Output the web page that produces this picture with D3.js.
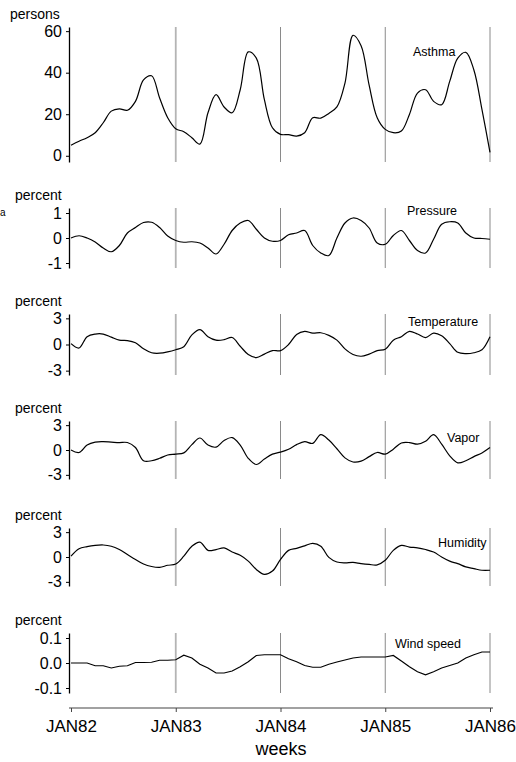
<!DOCTYPE html>
<html>
<head>
<meta charset="utf-8">
<script src="https://cdn.jsdelivr.net/npm/d3@7"></script>
<style>
  body { margin: 0; background: #fff; }
  svg text { font-family: "Liberation Sans", Arial, sans-serif; fill: #000; }
</style>
</head>
<body>
<div id="chart"></div>
<script>
// Week index (every 4 weeks, Jan 1982 .. Jan 1986)
const weeks = [0, 4, 8, 12, 16, 20, 24, 28, 32, 36, 40, 44, 48, 52, 56, 60, 64, 68, 72, 76, 80, 84, 88, 92, 96, 100,
  104, 108, 112, 116, 120, 124, 128, 132, 136, 140, 144, 148, 152, 156, 160, 164, 168, 172, 176, 180, 184, 188, 192, 196, 200, 204, 208];

const yearTicks = [0, 52, 104, 156, 208];
const yearLabels = ["JAN82", "JAN83", "JAN84", "JAN85", "JAN86"];

// Series values
const asthma = [5.1, 7.0, 8.7, 11.1, 15.9, 21.5, 22.6, 21.9, 26.2, 36.5, 38.5, 27.8, 18.3, 13.0, 11.6, 8.7, 5.6, 20.7, 29.4, 23.5,
  20.7, 31.8, 50.0, 47.0, 27.0, 13.5, 10.3, 10.2, 9.5, 11.1, 18.3, 18.1, 20.4, 23.5, 35.0, 58.0, 53.0, 34.0, 18.3, 12.7,
  11.1, 11.9, 19.9, 30.2, 31.8, 26.2, 24.6, 35.8, 47.0, 49.8, 41.3, 22.3, 1.6];

const pressure = [0.0, 0.09, 0.0, -0.16, -0.4, -0.55, -0.3, 0.2, 0.42, 0.62, 0.63, 0.42, 0.08, -0.1, -0.17, -0.15, -0.2, -0.4,
  -0.64, -0.25, 0.3, 0.6, 0.7, 0.35, 0.0, -0.13, -0.1, 0.13, 0.2, 0.3, -0.3, -0.6, -0.7, 0.0, 0.6, 0.8, 0.7, 0.4, -0.2,
  -0.25, 0.1, 0.3, -0.1, -0.5, -0.6, -0.05, 0.55, 0.65, 0.6, 0.2, 0.0, -0.02, -0.05];

const temperature = [0.1, -0.4, 0.9, 1.2, 1.2, 0.85, 0.5, 0.45, 0.2, -0.5, -0.95, -1.0, -0.85, -0.6, -0.25, 1.1, 1.7, 0.9,
  0.5, 0.55, 0.8, -0.2, -1.15, -1.5, -1.1, -0.7, -0.7, 0.0, 1.15, 1.5, 1.3, 1.35, 1.05, 0.5, -0.5, -1.15, -1.35, -1.1,
  -0.7, -0.55, 0.5, 0.9, 1.5, 1.2, 0.8, 1.3, 1.0, 0.1, -0.9, -1.05, -0.95, -0.6, 0.9];

const vapor = [0.0, -0.3, 0.6, 0.95, 1.0, 0.95, 0.9, 0.9, 0.3, -1.3, -1.3, -1.0, -0.6, -0.5, -0.35, 0.65, 1.45, 0.6, 0.35,
  1.15, 1.5, 0.6, -1.0, -1.75, -1.1, -0.5, -0.25, 0.1, 0.65, 1.0, 0.8, 1.85, 1.2, 0.15, -0.95, -1.45, -1.35, -0.8, -0.3,
  -0.5, 0.1, 0.85, 0.9, 0.7, 1.05, 1.85, 0.7, -0.7, -1.55, -1.3, -0.8, -0.35, 0.3];

const humidity = [0.1, 1.0, 1.25, 1.4, 1.45, 1.3, 0.9, 0.3, -0.3, -0.85, -1.15, -1.25, -1.0, -0.85, 0.1, 1.3, 1.8, 0.8,
  0.9, 1.1, 0.6, 0.2, -0.5, -1.5, -2.1, -1.7, -0.3, 0.8, 1.05, 1.35, 1.65, 1.3, -0.05, -0.6, -0.7, -0.65, -0.8, -0.9,
  -0.95, -0.4, 0.8, 1.4, 1.2, 1.1, 0.9, 0.6, 0.0, -0.5, -0.8, -1.2, -1.4, -1.6, -1.6];

const windSpeed = [0.0, 0.0, 0.0, -0.011, -0.011, -0.02, -0.013, -0.011, 0.002, 0.002, 0.003, 0.011, 0.011, 0.013, 0.031,
  0.02, -0.005, -0.02, -0.04, -0.04, -0.032, -0.015, 0.005, 0.03, 0.033, 0.033, 0.033, 0.017, 0.005, -0.01, -0.017,
  -0.017, -0.005, 0.004, 0.012, 0.02, 0.024, 0.024, 0.024, 0.024, 0.03, 0.008, -0.015, -0.035, -0.047, -0.035, -0.02,
  -0.01, 0.0, 0.02, 0.033, 0.044, 0.044];

const width = 516;
const height = 762;

const svg = d3.select("#chart")
    .append("svg")
    .attr("width", width)
    .attr("height", height);

const x = d3.scaleLinear().domain([0, 208]).range([71, 490]);
const axisX = 69;

// Panel layout
const panels = [
    { name: "Asthma", unit: "persons", values: asthma, domain: [-3, 62], range: [162, 27],
      ticks: [0, 20, 40, 60], fmt: d3.format("d"), label: [413, 56], curve: d3.curveCatmullRom },
    { name: "Pressure", unit: "percent", values: pressure, domain: [-1.2, 1.2], range: [268, 208],
      ticks: [-1, 0, 1], fmt: d3.format("d"), label: [407, 215], curve: d3.curveCatmullRom },
    { name: "Temperature", unit: "percent", values: temperature, domain: [-3.5, 3.5], range: [375, 314],
      ticks: [-3, 0, 3], fmt: d3.format("d"), label: [408, 326], curve: d3.curveCatmullRom },
    { name: "Vapor", unit: "percent", values: vapor, domain: [-3.5, 3.5], range: [479, 421],
      ticks: [-3, 0, 3], fmt: d3.format("d"), label: [447, 442], curve: d3.curveCatmullRom },
    { name: "Humidity", unit: "percent", values: humidity, domain: [-3.5, 3.5], range: [586, 528],
      ticks: [-3, 0, 3], fmt: d3.format("d"), label: [438, 547], curve: d3.curveCatmullRom },
    { name: "Wind speed", unit: "percent", values: windSpeed, domain: [-0.12, 0.12], range: [693, 633],
      ticks: [-0.1, 0, 0.1], fmt: d3.format(".1f"), label: [395, 648], curve: d3.curveLinear }
];

panels.forEach((p) => {
    const y = d3.scaleLinear().domain(p.domain).range(p.range);
    const g = svg.append("g");

    // year separators
    g.selectAll("line.year")
        .data(yearTicks.slice(1))
        .enter()
        .append("line")
        .attr("x1", (d) => x(d))
        .attr("x2", (d) => x(d))
        .attr("y1", p.range[1])
        .attr("y2", p.range[0])
        .attr("stroke", (d, i) => i === 0 ? "#b4b4b4" : "#8a8a8a")
        .attr("stroke-width", (d, i) => i === 0 ? 1.8 : 1);

    // y axis
    const yAxis = d3.axisLeft(y)
        .tickValues(p.ticks)
        .tickFormat((d) => p.fmt(d).replace("\u2212", "-"))
        .tickSize(3)
        .tickPadding(4)
        .tickSizeOuter(0);

    const ax = g.append("g")
        .attr("transform", `translate(${axisX},0)`)
        .call(yAxis);
    ax.select(".domain").attr("stroke", "#000").attr("stroke-width", 1.3);
    ax.selectAll(".tick line").attr("stroke", "#000");
    ax.selectAll(".tick text")
        .style("font-size", "16px")
        .style("font-family", "'Liberation Sans', Arial, sans-serif");

    // unit label
    g.append("text")
        .attr("x", p.unit === "persons" ? 10 : 15)
        .attr("y", p.range[1] - 8)
        .style("font-size", "14px")
        .text(p.unit);

    // series line
    const line = d3.line()
        .x((d, i) => x(weeks[i]))
        .y((d) => y(d))
        .curve(p.curve);

    g.append("path")
        .datum(p.values)
        .attr("fill", "none")
        .attr("stroke", "#000")
        .attr("stroke-width", 1.2)
        .attr("d", line);

    // series name
    g.append("text")
        .attr("x", p.label[0])
        .attr("y", p.label[1])
        .style("font-size", "12.5px")
        .text(p.name);
});

// stray letter at left edge
svg.append("text")
    .attr("x", 0)
    .attr("y", 216)
    .style("font-size", "10px")
    .text("a");

// bottom time axis
const xAxis = d3.axisBottom(x)
    .tickValues(yearTicks)
    .tickFormat((d, i) => yearLabels[i])
    .tickSize(4)
    .tickPadding(8)
    .tickSizeOuter(0);

const xg = svg.append("g")
    .attr("transform", "translate(0,708)")
    .call(xAxis);
xg.select(".domain").attr("d", "M69,0H493").attr("stroke", "#444").attr("stroke-width", 1.2);
xg.selectAll(".tick line").attr("stroke", "#444");
xg.selectAll(".tick text")
    .style("font-size", "17px")
    .style("font-family", "'Liberation Sans', Arial, sans-serif");

svg.append("text")
    .attr("x", 281)
    .attr("y", 755)
    .attr("text-anchor", "middle")
    .style("font-size", "18px")
    .text("weeks");
</script>
</body>
</html>
